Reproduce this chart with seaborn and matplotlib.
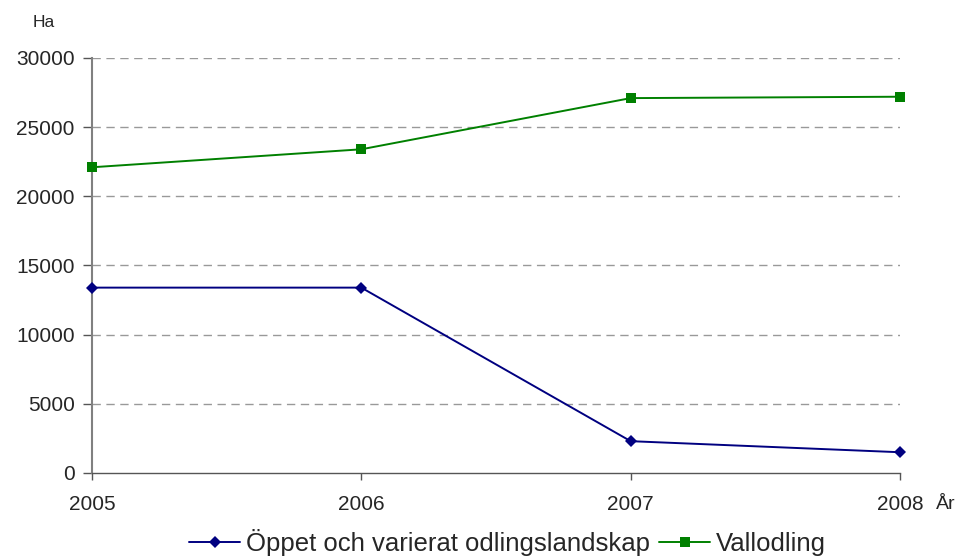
import numpy as np
import pandas as pd
import matplotlib
matplotlib.use("Agg")
import matplotlib.pyplot as plt
from matplotlib.lines import Line2D
import seaborn as sns

# Data
years = [2005, 2006, 2007, 2008]
oppet = [13400, 13400, 2300, 1500]
vallodling = [22100, 23400, 27100, 27200]
serie_namn = ["Öppet och varierat odlingslandskap", "Vallodling"]
farger = ["#000080", "#008000"]
markorer = ["D", "s"]
storlek = [6.5, 7.5]
y_ticks = [0, 5000, 10000, 15000, 20000, 25000, 30000]

df = pd.DataFrame({
    "År": years * 2,
    "Ha": oppet + vallodling,
    "Serie": [serie_namn[0]] * 4 + [serie_namn[1]] * 4,
})

sns.set_theme(style="white")
plt.rcParams["font.family"] = ["Liberation Sans", "DejaVu Sans"]

fig = plt.figure(figsize=(9.59, 5.56), dpi=100)
ax = fig.add_axes([0.0959, 0.1493, 0.8426, 0.7464])

sns.lineplot(data=df, x="År", y="Ha", hue="Serie", style="Serie",
             palette=farger, markers=markorer, dashes=False,
             linewidth=1.4, markeredgewidth=0, ax=ax, legend=False)
for ln, ms in zip(ax.lines, storlek):
    ln.set_markersize(ms)
    ln.set_clip_on(False)
    ln.set_zorder(5)

ax.set_xlim(2005, 2008)
ax.set_ylim(0, 30000)
ax.set_xticks(years)
ax.set_xticklabels([str(y) for y in years])
ax.set_yticks(y_ticks)
ax.set_yticklabels([str(v) for v in y_ticks])

for v in y_ticks[1:]:
    ax.axhline(v, color="#999999", linestyle=(0, (6, 4)), linewidth=1, zorder=0)

for s in ["top", "right"]:
    ax.spines[s].set_visible(False)
ax.spines["left"].set_color("#808080")
ax.spines["left"].set_linewidth(1.5)
ax.spines["bottom"].set_color("#555555")
ax.spines["bottom"].set_linewidth(1)

ax.tick_params(axis="y", direction="out", length=6.5, width=1, color="#555555",
               pad=6, labelsize=15, left=True)
ax.tick_params(axis="x", direction="out", length=5, width=1, color="#555555",
               pad=11, labelsize=15, bottom=True)

ax.set_xlabel("")
ax.set_ylabel("")
fig.text(0.046, 0.96, "Ha", fontsize=12.5, ha="center", va="center")
fig.text(0.986, 0.092, "År", fontsize=14, ha="center", va="center")

handles = [Line2D([], [], color=c, marker=m, markersize=ms - 0.5, markeredgewidth=0,
                  linewidth=1.4) for c, m, ms in zip(farger, markorer, storlek)]
fig.legend(handles, serie_namn, loc="center", bbox_to_anchor=(0.529, 0.025),
           ncol=2, frameon=False, fontsize=18.5, handlelength=2.0,
           columnspacing=0.37, handletextpad=0.2, borderaxespad=0,
           borderpad=0)

fig.savefig("out.png", dpi=100)
